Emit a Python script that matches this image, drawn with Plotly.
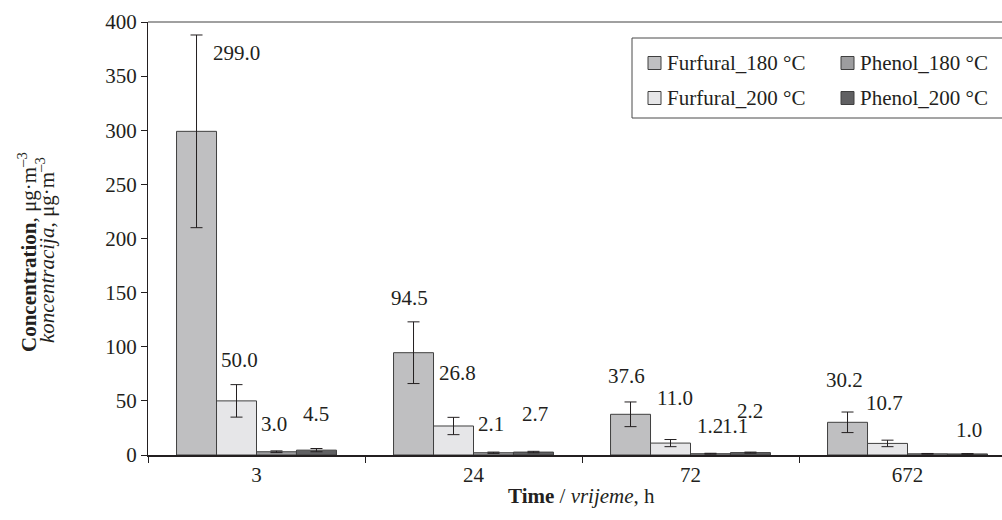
import plotly.graph_objects as go

# ---- data -------------------------------------------------------------
times = ["3", "24", "72", "672"]
series_names = ["Furfural_180 °C", "Furfural_200 °C", "Phenol_180 °C", "Phenol_200 °C"]

furfural_180 = [299.0, 94.5, 37.6, 30.2]
furfural_200 = [50.0, 26.8, 11.0, 10.7]
phenol_180 = [3.0, 2.1, 1.2, 1.1]
phenol_200 = [4.5, 2.7, 2.2, 1.0]

err_furfural_180 = [89.0, 28.5, 11.4, 9.5]
err_furfural_200 = [15.0, 8.0, 3.3, 3.0]
err_phenol_180 = [0.8, 0.6, 0.4, 0.3]
err_phenol_200 = [1.5, 0.7, 0.5, 0.3]

y_ticks = [0, 50, 100, 150, 200, 250, 300, 350, 400]

# ---- styling ----------------------------------------------------------
values = [furfural_180, furfural_200, phenol_180, phenol_200]
errors = [err_furfural_180, err_furfural_200, err_phenol_180, err_phenol_200]
colors = ["#bfbfc1", "#e6e6e8", "#9d9d9f", "#606062"]
outline = "#3f3f3f"
ink = "#231f20"
FONT = "Liberation Serif, Times New Roman, serif"
FS = 21

# value-label nudges in px (xshift, yshift) from the top of each error bar
label_nudge = [
    [(40, -18), (-4, 24), (-4, 26), (-3, 32)],
    [(3, 25), (4, 44), (4, 42), (-3, 37)],
    [(-2, 27), (-2, 28), (0, 27), (-192, 27)],
    [(0, 35), (2, 37), (0, 41), (2, 24)],
]

# plot-area geometry
ML, MT, MB = 148, 22, 65
W, H = 1002, 520
PW, PH = W - ML, H - MT - MB
BARGAP = 0.263
n_series = len(values)
bar_w = (1 - BARGAP) / n_series
x_max = -0.5 + PW / 217.0


def px_x(px):
    return (px - ML) / PW


def px_y(py):
    return (H - MB - py) / PH


fig = go.Figure()
for name, vals, errs, col in zip(series_names, values, errors, colors):
    fig.add_trace(go.Bar(
        x=times, y=vals, name=name,
        marker=dict(color=col, line=dict(color=outline, width=1)),
        error_y=dict(type="data", array=errs, visible=True,
                     color=ink, thickness=1, width=6),
        showlegend=False,
    ))

# value labels
annotations = []
for j, (vals, errs) in enumerate(zip(values, errors)):
    for i, (v, e) in enumerate(zip(vals, errs)):
        dx, dy = label_nudge[j][i]
        annotations.append(dict(
            x=i + (j - (n_series - 1) / 2) * bar_w, y=v + e,
            xref="x", yref="y", text=f"{v:.1f}", showarrow=False,
            xanchor="center", yanchor="middle", xshift=dx, yshift=dy,
            font=dict(family=FONT, size=FS, color=ink),
        ))

# axis titles
annotations.append(dict(
    x=px_x(581), y=px_y(496), xref="paper", yref="paper",
    text="<b>Time</b> / <i>vrijeme</i>, h", showarrow=False,
    xanchor="center", yanchor="middle",
    font=dict(family=FONT, size=FS, color=ink),
))
annotations.append(dict(
    x=px_x(27), y=px_y(252), xref="paper", yref="paper",
    text="<b>Concentration</b>, μg·m<sup>–3</sup>", showarrow=False,
    textangle=-90, xanchor="center", yanchor="middle",
    font=dict(family=FONT, size=FS, color=ink),
))
annotations.append(dict(
    x=px_x(45), y=px_y(250), xref="paper", yref="paper",
    text="<i>koncentracija</i>, μg·m<sup>–3</sup>", showarrow=False,
    textangle=-90, xanchor="center", yanchor="middle",
    font=dict(family=FONT, size=FS, color=ink),
))

# legend drawn as a framed box with two columns
shapes = [
    # top frame line of the plot area
    dict(type="line", xref="paper", yref="paper", x0=0, x1=1.02, y0=1, y1=1,
         line=dict(color="#808080", width=1.5)),
    dict(type="rect", xref="paper", yref="paper",
         x0=px_x(632), x1=px_x(1012), y0=px_y(118), y1=px_y(38),
         line=dict(color="#4a4a4a", width=1), fillcolor="white"),
]
legend_slots = [(648, 63), (648, 98), (841, 63), (841, 98)]
for (sx, sy), name, col in zip(legend_slots, series_names, colors):
    shapes.append(dict(
        type="rect", xref="paper", yref="paper",
        x0=px_x(sx), x1=px_x(sx + 13), y0=px_y(sy + 6.5), y1=px_y(sy - 6.5),
        line=dict(color=outline, width=1), fillcolor=col,
    ))
    annotations.append(dict(
        x=px_x(sx + 17), y=px_y(sy), xref="paper", yref="paper",
        text=name, showarrow=False, xanchor="left", yanchor="middle",
        font=dict(family=FONT, size=FS, color=ink),
    ))

fig.update_layout(
    width=W, height=H,
    margin=dict(l=ML, r=0, t=MT, b=MB, pad=0),
    paper_bgcolor="white", plot_bgcolor="white",
    barmode="group", bargap=BARGAP, bargroupgap=0,
    font=dict(family=FONT, size=FS, color=ink),
    annotations=annotations, shapes=shapes,
    xaxis=dict(
        type="category", range=[-0.5, x_max], tickson="boundaries",
        ticks="outside", ticklen=6, tickcolor=ink, tickwidth=1,
        showline=True, linecolor=ink, linewidth=2, showgrid=False,
        tickfont=dict(family=FONT, size=FS, color=ink), zeroline=False,
    ),
    yaxis=dict(
        range=[0, 400], tickvals=y_ticks, ticks="outside", ticklen=6,
        tickcolor=ink, tickwidth=1, showline=True, linecolor=ink, linewidth=1,
        showgrid=False, zeroline=False,
        tickfont=dict(family=FONT, size=FS, color=ink),
    ),
)

fig.write_html("out.html")
